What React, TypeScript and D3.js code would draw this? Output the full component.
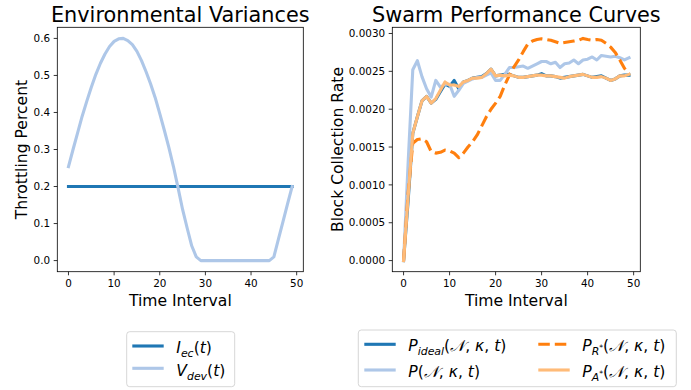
import * as d3 from "d3";

const timeSteps = d3.range(50);

// left panel: throttling
const ecThrottle = [
  0.2, 0.2, 0.2, 0.2, 0.2, 0.2, 0.2, 0.2, 0.2, 0.2,
  0.2, 0.2, 0.2, 0.2, 0.2, 0.2, 0.2, 0.2, 0.2, 0.2,
  0.2, 0.2, 0.2, 0.2, 0.2, 0.2, 0.2, 0.2, 0.2, 0.2,
  0.2, 0.2, 0.2, 0.2, 0.2, 0.2, 0.2, 0.2, 0.2, 0.2,
  0.2, 0.2, 0.2, 0.2, 0.2, 0.2, 0.2, 0.2, 0.2, 0.2,
];
const devThrottle = [
  0.254, 0.3, 0.345, 0.39, 0.43, 0.468, 0.503, 0.533, 0.558, 0.578,
  0.592, 0.599, 0.6, 0.594, 0.583, 0.565, 0.54, 0.51, 0.477, 0.44,
  0.397, 0.352, 0.305, 0.254, 0.197, 0.138, 0.088, 0.04, 0.01, 0,
  0, 0, 0, 0, 0, 0, 0, 0, 0, 0,
  0, 0, 0, 0, 0, 0.01, 0.058, 0.105, 0.153, 0.2,
];

// right panel: block collection rate
const idealRate = [
  0, 0.0008, 0.00168, 0.0019, 0.00211, 0.00217, 0.00208, 0.00213, 0.00223, 0.00233,
  0.0023, 0.00238, 0.00227, 0.00236, 0.00238, 0.00241, 0.00242, 0.00243, 0.00247, 0.00253,
  0.00244, 0.00245, 0.00246, 0.00246, 0.00244, 0.00242, 0.00242, 0.00243, 0.00244, 0.00245,
  0.00247, 0.00244, 0.00244, 0.00243, 0.00241, 0.00242, 0.00243, 0.00244, 0.00245, 0.00246,
  0.00244, 0.00242, 0.00243, 0.00244, 0.00241, 0.00238, 0.0024, 0.00244, 0.00245, 0.00245,
];
const actualRate = [
  0, 0.0013, 0.00252, 0.00264, 0.00243, 0.00227, 0.00216, 0.00238, 0.00229, 0.00233,
  0.00233, 0.00217, 0.00225, 0.00234, 0.00237, 0.0024, 0.00242, 0.00242, 0.00245, 0.00248,
  0.00238, 0.00238, 0.00246, 0.00255, 0.00255, 0.00256, 0.00257, 0.00254, 0.00257, 0.0026,
  0.00263, 0.00263, 0.0026, 0.00262, 0.00255, 0.0026, 0.00261, 0.00265, 0.0026, 0.00265,
  0.00266, 0.00269, 0.00265, 0.00271, 0.0027, 0.00269, 0.0027, 0.00268, 0.00265, 0.00268,
];
const randomRate = [
  0, 0.0009, 0.00155, 0.0016, 0.00161, 0.00157, 0.00144, 0.00142, 0.00143, 0.00146,
  0.00145, 0.00142, 0.00136, 0.00142, 0.0015, 0.00157, 0.00166, 0.00178, 0.0019, 0.002,
  0.00208, 0.00217, 0.00232, 0.00245, 0.00256, 0.00265, 0.00276, 0.00286, 0.0029, 0.00292,
  0.00293, 0.00292, 0.00291, 0.00289, 0.00287, 0.00288, 0.00289, 0.0029, 0.00291, 0.002935,
  0.00292, 0.00291, 0.00292, 0.00291, 0.00287, 0.00282, 0.00275, 0.00265, 0.00254, 0.00247,
];
const adaptiveRate = [
  0, 0.00085, 0.00168, 0.0019, 0.00211, 0.00217, 0.00208, 0.00214, 0.00225, 0.00236,
  0.00232, 0.00232, 0.0023, 0.00236, 0.00238, 0.00241, 0.00241, 0.00242, 0.00247, 0.00253,
  0.00244, 0.00245, 0.00244, 0.00245, 0.00244, 0.00242, 0.00242, 0.00243, 0.00244, 0.00245,
  0.00245, 0.00244, 0.00244, 0.00243, 0.00242, 0.00241, 0.00243, 0.00244, 0.00245, 0.00246,
  0.00244, 0.00242, 0.00242, 0.00243, 0.00241, 0.00238, 0.0024, 0.00244, 0.00244, 0.00246,
];

const xTicks = [0, 10, 20, 30, 40, 50];
const throttleTicks = [0, 0.1, 0.2, 0.3, 0.4, 0.5, 0.6];
const rateTicks = [0, 0.0005, 0.001, 0.0015, 0.002, 0.0025, 0.003];

const FONT = "DejaVu Sans, Verdana, sans-serif";
const BLUE = "#1f77b4";
const LIGHT_BLUE = "#aec7e8";
const ORANGE = "#ff7f0e";
const LIGHT_ORANGE = "#ffbb78";
const LW = 3.1;
const DASH = "11.5,5";

// mathtext-ish label pieces: lvl 0 = normal, 1 = subscript, 2 = superscript on the subscript
type Part = { t: string; it?: boolean; lvl?: number; cal?: boolean };
const N_CAL: Part = { t: "\u{1D4A9}", cal: true };
const ARGS: Part[] = [{ t: "(" }, N_CAL, { t: ", " }, { t: "κ", it: true }, { t: ", " }, { t: "t", it: true }, { t: ")" }];

const leftEntries = [
  { parts: [{ t: "I", it: true }, { t: "ec", it: true, lvl: 1 }, { t: "(" }, { t: "t", it: true }, { t: ")" }], color: BLUE, dash: null },
  { parts: [{ t: "V", it: true }, { t: "dev", it: true, lvl: 1 }, { t: "(" }, { t: "t", it: true }, { t: ")" }], color: LIGHT_BLUE, dash: null },
];
const rightEntries = [
  { parts: [{ t: "P", it: true }, { t: "ideal", it: true, lvl: 1 }, ...ARGS], color: BLUE, dash: null },
  { parts: [{ t: "P", it: true }, ...ARGS], color: LIGHT_BLUE, dash: null },
  { parts: [{ t: "P", it: true }, { t: "R", it: true, lvl: 1 }, { t: "*", lvl: 2 }, ...ARGS], color: ORANGE, dash: DASH },
  { parts: [{ t: "P", it: true }, { t: "A", it: true, lvl: 1 }, { t: "*", lvl: 2 }, ...ARGS], color: LIGHT_ORANGE, dash: null },
];

const LEGEND_SIZE = 15.6;
const lvlSize = [LEGEND_SIZE, LEGEND_SIZE * 0.7, LEGEND_SIZE * 0.49];
const lvlShift = [0, 3.9, -1.2];

function MathLabel({ x, y, parts }: { x: number; y: number; parts: Part[] }) {
  let cur = 0;
  return (
    <text x={x} y={y} fontFamily={FONT} fontSize={LEGEND_SIZE} fill="#000">
      {parts.map((p, i) => {
        const lvl = p.lvl ?? 0;
        const dy = lvlShift[lvl] - cur;
        cur = lvlShift[lvl];
        return (
          <tspan
            key={i}
            dy={dy}
            fontSize={lvlSize[lvl]}
            fontStyle={p.it || p.cal ? "italic" : "normal"}
            fontFamily={p.cal ? "DejaVu Serif, serif" : FONT}
          >
            {p.t}
          </tspan>
        );
      })}
    </text>
  );
}

interface SeriesDef {
  values: number[];
  color: string;
  dash: string | null;
}

interface PanelProps {
  left: number;
  right: number;
  top: number;
  bottom: number;
  series: SeriesDef[];
  yTicks: number[];
  yFormat: (v: number) => string;
  title: string;
  yLabel: string;
  yLabelX: number;
}

function Panel({ left, right, top, bottom, series, yTicks, yFormat, title, yLabel, yLabelX }: PanelProps) {
  const [tMin, tMax] = d3.extent(timeSteps) as [number, number];
  const tPad = (tMax - tMin) * 0.05;
  const x = d3.scaleLinear().domain([tMin - tPad, tMax + tPad]).range([left, right]);

  const all = series.flatMap((s) => s.values);
  const [vMin, vMax] = d3.extent(all) as [number, number];
  const vPad = (vMax - vMin) * 0.05;
  const y = d3.scaleLinear().domain([vMin - vPad, vMax + vPad]).range([bottom, top]);

  const line = d3
    .line<number>()
    .x((_, i) => x(timeSteps[i]))
    .y((d) => y(d));

  const cx = (left + right) / 2;
  const cy = (top + bottom) / 2;

  return (
    <g>
      {series.map((s, i) => (
        <path
          key={i}
          d={line(s.values) || ""}
          fill="none"
          stroke={s.color}
          strokeWidth={LW}
          strokeDasharray={s.dash || undefined}
          strokeLinejoin="round"
          strokeLinecap={s.dash ? "butt" : "square"}
        />
      ))}
      <rect x={left} y={top} width={right - left} height={bottom - top} fill="none" stroke="#000" strokeWidth={0.8} />
      {xTicks.map((t) => (
        <g key={t} transform={`translate(${x(t)},${bottom})`}>
          <line y2={3.6} stroke="#000" strokeWidth={0.8} />
          <text y={15.8} textAnchor="middle" fontFamily={FONT} fontSize={10.4} fill="#000">
            {t}
          </text>
        </g>
      ))}
      {yTicks.map((t) => (
        <g key={t} transform={`translate(${left},${y(t)})`}>
          <line x2={-3.6} stroke="#000" strokeWidth={0.8} />
          <text x={-7.2} dy="0.36em" textAnchor="end" fontFamily={FONT} fontSize={10.4} fill="#000">
            {yFormat(t)}
          </text>
        </g>
      ))}
      <text x={cx} y={21.7} textAnchor="middle" fontFamily={FONT} fontSize={20.8} fill="#000">
        {title}
      </text>
      <text x={cx} y={305.5} textAnchor="middle" fontFamily={FONT} fontSize={15.6} fill="#000">
        Time Interval
      </text>
      <text
        transform={`translate(${yLabelX},${cy}) rotate(-90)`}
        textAnchor="middle"
        fontFamily={FONT}
        fontSize={15.6}
        fill="#000"
      >
        {yLabel}
      </text>
    </g>
  );
}

interface LegendEntry {
  parts: Part[];
  color: string;
  dash: string | null;
}

function Legend({
  x,
  y,
  width,
  height,
  entries,
  rows,
  baselines,
  cols,
}: {
  x: number;
  y: number;
  width: number;
  height: number;
  entries: LegendEntry[];
  rows: number[];
  baselines: number[];
  cols: number[];
}) {
  const handle = 31.4;
  return (
    <g>
      <rect x={x} y={y} width={width} height={height} rx={3} fill="#fff" fillOpacity={0.8} stroke="#cccccc" strokeWidth={0.8} />
      {entries.map((e, i) => {
        const c = Math.floor(i / rows.length);
        const r = i % rows.length;
        const hx = cols[c];
        return (
          <g key={i}>
            <line
              x1={hx}
              x2={hx + handle}
              y1={rows[r]}
              y2={rows[r]}
              stroke={e.color}
              strokeWidth={LW}
              strokeDasharray={e.dash || undefined}
            />
            <MathLabel x={hx + handle + 12.6} y={baselines[r]} parts={e.parts} />
          </g>
        );
      })}
    </g>
  );
}

export default function App() {
  return (
    <div style={{ position: "absolute", left: 0, top: 0 }}>
      <svg width={691} height={390} style={{ display: "block", background: "#fff" }}>
        <Panel
          left={57.3}
          right={303.3}
          top={27.3}
          bottom={271.7}
          series={[
            { values: ecThrottle, color: BLUE, dash: null },
            { values: devThrottle, color: LIGHT_BLUE, dash: null },
          ]}
          yTicks={throttleTicks}
          yFormat={d3.format(".1f")}
          title="Environmental Variances"
          yLabel="Throttling Percent"
          yLabelX={26.9}
        />
        <Panel
          left={392.3}
          right={640.3}
          top={27.3}
          bottom={271.7}
          series={[
            { values: idealRate, color: BLUE, dash: null },
            { values: actualRate, color: LIGHT_BLUE, dash: null },
            { values: randomRate, color: ORANGE, dash: DASH },
            { values: adaptiveRate, color: LIGHT_ORANGE, dash: null },
          ]}
          yTicks={rateTicks}
          yFormat={d3.format(".4f")}
          title="Swarm Performance Curves"
          yLabel="Block Collection Rate"
          yLabelX={343.3}
        />
        <Legend
          x={126.7}
          y={331.7}
          width={108}
          height={55}
          entries={leftEntries}
          rows={[346, 368.3]}
          baselines={[353.3, 376.2]}
          cols={[132.3]}
        />
        <Legend
          x={358.3}
          y={330}
          width={318}
          height={56.7}
          entries={rightEntries}
          rows={[344.3, 370]}
          baselines={[351, 376.7]}
          cols={[364.3, 538.3]}
        />
      </svg>
    </div>
  );
}
